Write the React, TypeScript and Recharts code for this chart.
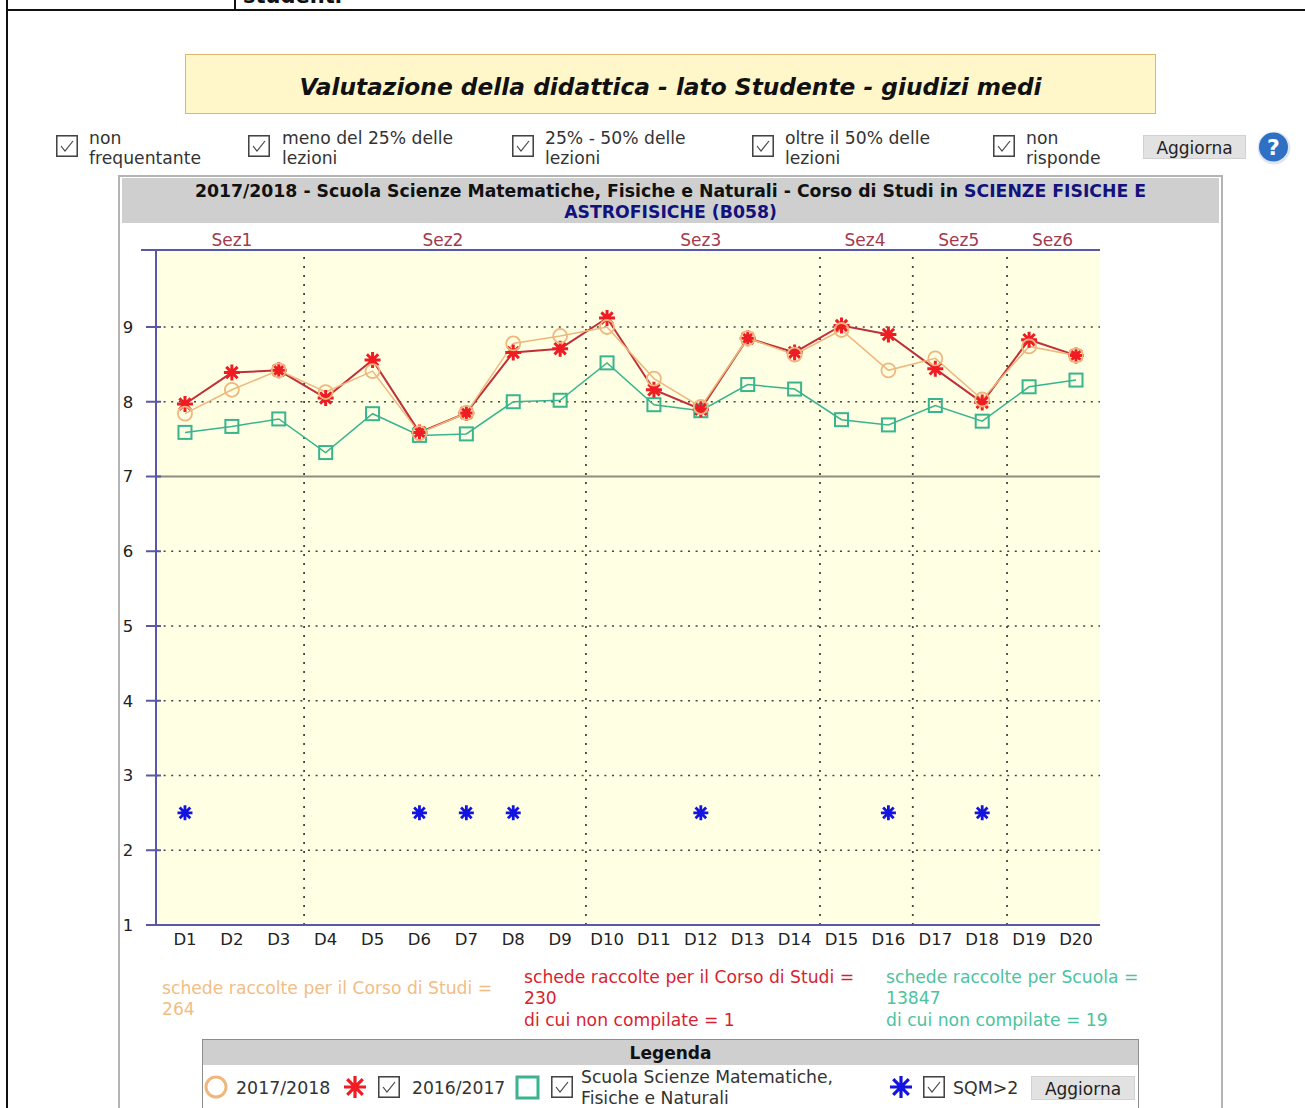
import { LineChart, Line, XAxis, YAxis, CartesianGrid, ReferenceLine } from "recharts";
import type { CSSProperties, ReactNode } from "react";

const FONT = "'DejaVu Sans', Verdana, sans-serif";

const docenti = ["D1", "D2", "D3", "D4", "D5", "D6", "D7", "D8", "D9", "D10", "D11", "D12", "D13", "D14", "D15", "D16", "D17", "D18", "D19", "D20"];
const anno1718 = [7.84, 8.16, 8.42, 8.13, 8.41, 7.58, 7.85, 8.78, 8.88, 9.0, 8.31, 7.93, 8.85, 8.63, 8.96, 8.42, 8.58, 8.03, 8.74, 8.62];
const anno1617 = [7.97, 8.39, 8.42, 8.05, 8.56, 7.59, 7.85, 8.66, 8.71, 9.12, 8.16, 7.9, 8.85, 8.66, 9.02, 8.9, 8.44, 7.99, 8.83, 8.62];
const scuola = [7.59, 7.67, 7.77, 7.32, 7.84, 7.55, 7.57, 8.0, 8.02, 8.52, 7.96, 7.88, 8.23, 8.17, 7.76, 7.69, 7.95, 7.74, 8.2, 8.29];
const sqm = [2.5, null, null, null, null, 2.5, 2.5, 2.5, null, null, null, 2.5, null, null, null, 2.5, null, 2.5, null, null];

const yTicks = [1, 2, 3, 4, 5, 6, 7, 8, 9];
const dottedY = [2, 3, 4, 5, 6, 8, 9];
const sezioni = ["Sez1", "Sez2", "Sez3", "Sez4", "Sez5", "Sez6"];
const sezioniCentro = [2, 6.5, 12, 15.5, 17.5, 19.5];
const sezioniLimiti = [3.54, 9.55, 14.54, 16.52, 18.53];

const filtri = [
  { x: 56, tx: 89, righe: ["non", "frequentante"] },
  { x: 248, tx: 282, righe: ["meno del 25% delle", "lezioni"] },
  { x: 512, tx: 545, righe: ["25% - 50% delle", "lezioni"] },
  { x: 752, tx: 785, righe: ["oltre il 50% delle", "lezioni"] },
  { x: 993, tx: 1026, righe: ["non", "risponde"] },
];

const data = docenti.map((d, i) => ({
  pos: i + 1,
  label: d,
  a: anno1718[i],
  b: anno1617[i],
  s: scuola[i],
  q: sqm[i],
}));

const AXIS = "#5a58a6";

function Star({ cx, cy, r, color, w }: any) {
  if (cy == null || cx == null) return null;
  const d = [0, 45, 90, 135].map((a) => {
    const dx = r * Math.cos((a * Math.PI) / 180);
    const dy = r * Math.sin((a * Math.PI) / 180);
    return `M${cx - dx} ${cy - dy}L${cx + dx} ${cy + dy}`;
  });
  return <path d={d.join("")} stroke={color} strokeWidth={w} fill="none" />;
}

function CircleDot(props: any) {
  const { cx, cy, index } = props;
  return <circle key={index} cx={cx} cy={cy} r={7} fill="none" stroke="#efb77c" strokeWidth={1.8} />;
}

function SquareDot(props: any) {
  const { cx, cy, index } = props;
  return <rect key={index} x={cx - 6.5} y={cy - 6.5} width={13} height={13} fill="none" stroke="#38b48e" strokeWidth={2} />;
}

function RedDot(props: any) {
  return <Star key={props.index} cx={props.cx} cy={props.cy} r={8} color="#f01c24" w={3} />;
}

function BlueDot(props: any) {
  return <Star key={props.index} cx={props.cx} cy={props.cy} r={7.5} color="#1414e0" w={2.8} />;
}

function YTick({ x, y, payload }: any) {
  return (
    <g>
      <line x1={x - 2} x2={x + 13} y1={y} y2={y} stroke={AXIS} strokeWidth={2} />
      <text x={x - 20} y={y + 6} textAnchor="middle" fontSize={16.5} fontFamily={FONT} fill="#222">
        {payload.value}
      </text>
    </g>
  );
}

function Txt({ x, y, children, style }: { x: number; y: number; children: ReactNode; style?: CSSProperties }) {
  return (
    <div style={{ position: "absolute", left: x, top: y, whiteSpace: "nowrap", fontSize: 17.2, lineHeight: "21px", color: "#333", ...style }}>
      {children}
    </div>
  );
}

function Check({ x, y, size = 22 }: { x: number; y: number; size?: number }) {
  return (
    <svg style={{ position: "absolute", left: x, top: y }} width={size} height={size} viewBox="0 0 22 22">
      <rect x={0.75} y={0.75} width={20.5} height={20.5} fill="#fff" stroke="#444" strokeWidth={1.6} />
      <path d="M5 11L9 16L17 6" fill="none" stroke="#444" strokeWidth={1.2} />
    </svg>
  );
}

function Aggiorna({ x, y, w, h }: { x: number; y: number; w: number; h: number }) {
  return (
    <div style={{ position: "absolute", left: x, top: y, width: w, height: h, background: "#e2e2e2", border: "1px solid #d2d2d2", boxSizing: "border-box", textAlign: "center", fontSize: 17, lineHeight: `${h}px`, color: "#222" }}>
      Aggiorna
    </div>
  );
}

export default function App() {
  return (
    <div style={{ position: "absolute", left: 0, top: 0, width: 1305, height: 1108, overflow: "hidden", background: "#fff", fontFamily: FONT }}>
      {/* resto della tabella sopra */}
      <div style={{ position: "absolute", left: 6, top: 0, width: 2, height: 1108, background: "#111" }} />
      <div style={{ position: "absolute", left: 6, top: 9, width: 1299, height: 2, background: "#111" }} />
      <div style={{ position: "absolute", left: 234, top: 0, width: 2, height: 10, background: "#111" }} />
      <div style={{ position: "absolute", left: 243, top: -14, fontSize: 21, lineHeight: "20px", fontWeight: 700, color: "#111" }}>studenti</div>

      {/* titolo */}
      <div style={{ position: "absolute", left: 185, top: 54, width: 971, height: 60, boxSizing: "border-box", background: "#fff7c9", border: "1px solid #dfb56c", textAlign: "center", fontSize: 23.3, lineHeight: "63px", fontWeight: 700, fontStyle: "italic", color: "#111" }}>
        Valutazione della didattica - lato Studente - giudizi medi
      </div>

      {/* filtri */}
      {filtri.map((f) => (
        <div key={f.x}>
          <Check x={f.x} y={135} />
          <Txt x={f.tx} y={128}>{f.righe[0]}</Txt>
          <Txt x={f.tx} y={148}>{f.righe[1]}</Txt>
        </div>
      ))}
      <Aggiorna x={1143} y={135} w={103} h={24} />
      <svg style={{ position: "absolute", left: 1256, top: 129 }} width={36} height={36}>
        <circle cx={18} cy={19} r={16.5} fill="#dfe6f2" />
        <circle cx={17.5} cy={18} r={14.5} fill="#2f6fc4" />
        <text x={17.5} y={25.5} textAnchor="middle" fontSize={22} fontWeight={700} fill="#fff" fontFamily={FONT}>?</text>
      </svg>

      {/* riquadro del grafico */}
      <div style={{ position: "absolute", left: 118, top: 175, width: 1105, height: 1000, boxSizing: "border-box", border: "2px solid #b4b4b4" }} />
      <div style={{ position: "absolute", left: 122, top: 178, width: 1097, height: 45, background: "#cfcfcf", textAlign: "center", fontSize: 17.3, lineHeight: "21px", fontWeight: 700, color: "#111", paddingTop: 3, boxSizing: "border-box" }}>
        2017/2018 - Scuola Scienze Matematiche, Fisiche e Naturali - Corso di Studi in <span style={{ color: "#12127c" }}>SCIENZE FISICHE E</span>
        <br />
        <span style={{ color: "#12127c" }}>ASTROFISICHE (B058)</span>
      </div>

      <div style={{ position: "absolute", left: 0, top: 200 }}>
        <LineChart width={1305} height={760} data={data} margin={{ top: 20, right: 205, bottom: 0, left: 116 }}>
          <CartesianGrid xAxisId="bottom" fill="#ffffe4" stroke="#444" strokeWidth={1.7} strokeDasharray="2 5.6" vertical={false} horizontalValues={dottedY} />
          <XAxis
            xAxisId="bottom"
            dataKey="pos"
            type="number"
            domain={[0.382, 20.512]}
            ticks={docenti.map((_, i) => i + 1)}
            tickFormatter={(v: number) => docenti[v - 1]}
            interval={0}
            height={35}
            tickLine={false}
            axisLine={{ stroke: AXIS, strokeWidth: 2 }}
            tick={{ fontSize: 16.5, fontFamily: FONT, fill: "#222" }}
            tickMargin={2}
          />
          <XAxis
            xAxisId="top"
            orientation="top"
            dataKey="pos"
            type="number"
            domain={[0.382, 20.512]}
            ticks={sezioniCentro}
            tickFormatter={(v: number) => sezioni[sezioniCentro.indexOf(v)]}
            interval={0}
            height={30}
            tickLine={false}
            axisLine={false}
            tick={{ fontSize: 17, fontFamily: FONT, fill: "#a23a4e" }}
            tickMargin={-2}
          />
          <YAxis
            domain={[1, 10.03]}
            ticks={yTicks}
            interval={0}
            width={40}
            tickLine={false}
            axisLine={{ stroke: AXIS, strokeWidth: 2 }}
            tick={<YTick />}
          />
          {sezioniLimiti.map((x) => (
            <ReferenceLine key={x} xAxisId="bottom" x={x} stroke="#444" strokeWidth={1.8} strokeDasharray="2 7" />
          ))}
          <ReferenceLine xAxisId="bottom" y={7} stroke="#8d8d80" strokeWidth={2} />
          <ReferenceLine
            xAxisId="bottom"
            ifOverflow="visible"
            segment={[{ x: 0.062, y: 10.03 }, { x: 20.512, y: 10.03 }]}
            stroke={AXIS}
            strokeWidth={2}
          />
          <Line xAxisId="bottom" dataKey="s" stroke="#38b48e" strokeWidth={1.5} dot={<SquareDot />} activeDot={false} isAnimationActive={false} />
          <Line xAxisId="bottom" dataKey="b" stroke="#c0303a" strokeWidth={2} dot={<RedDot />} activeDot={false} isAnimationActive={false} />
          <Line xAxisId="bottom" dataKey="a" stroke="#efb77c" strokeWidth={1.5} dot={<CircleDot />} activeDot={false} isAnimationActive={false} />
          <Line xAxisId="bottom" dataKey="q" stroke="none" dot={<BlueDot />} activeDot={false} isAnimationActive={false} />
        </LineChart>
      </div>

      {/* conteggi schede */}
      <Txt x={162} y={978} style={{ color: "#f2bd85" }}>schede raccolte per il Corso di Studi =</Txt>
      <Txt x={162} y={999} style={{ color: "#f2bd85" }}>264</Txt>
      <Txt x={524} y={967} style={{ color: "#d81f30" }}>schede raccolte per il Corso di Studi =</Txt>
      <Txt x={524} y={988} style={{ color: "#d81f30" }}>230</Txt>
      <Txt x={524} y={1010} style={{ color: "#d81f30" }}>di cui non compilate = 1</Txt>
      <Txt x={886} y={967} style={{ color: "#4cc3a0" }}>schede raccolte per Scuola =</Txt>
      <Txt x={886} y={988} style={{ color: "#4cc3a0" }}>13847</Txt>
      <Txt x={886} y={1010} style={{ color: "#4cc3a0" }}>di cui non compilate = 19</Txt>

      {/* legenda */}
      <div style={{ position: "absolute", left: 202, top: 1039, width: 937, height: 100, boxSizing: "border-box", border: "1px solid #8c8c8c" }} />
      <div style={{ position: "absolute", left: 203, top: 1040, width: 935, height: 25, background: "#cfcfcf", textAlign: "center", fontSize: 17, lineHeight: "26px", fontWeight: 700, color: "#111" }}>Legenda</div>
      <svg style={{ position: "absolute", left: 200, top: 1070 }} width={720} height={36}>
        <circle cx={16} cy={17} r={10} fill="none" stroke="#efb77c" strokeWidth={3} />
        <Star cx={155} cy={17} r={11} color="#f01c24" w={3.2} />
        <rect x={317} y={7} width={21} height={21} fill="none" stroke="#38b48e" strokeWidth={3} />
      </svg>
      <svg style={{ position: "absolute", left: 885, top: 1070 }} width={32} height={36}>
        <Star cx={16} cy={17} r={11} color="#1414e0" w={3.2} />
      </svg>
      <Txt x={236} y={1078} style={{ fontSize: 17.4 }}>2017/2018</Txt>
      <Check x={378} y={1076} />
      <Txt x={412} y={1078} style={{ fontSize: 17.2 }}>2016/2017</Txt>
      <Check x={551} y={1076} />
      <Txt x={581} y={1067}>Scuola Scienze Matematiche,</Txt>
      <Txt x={581} y={1088}>Fisiche e Naturali</Txt>
      <Check x={923} y={1076} />
      <Txt x={953} y={1078} style={{ fontSize: 17.4 }}>SQM&gt;2</Txt>
      <Aggiorna x={1031} y={1076} w={104} h={24} />
    </div>
  );
}
